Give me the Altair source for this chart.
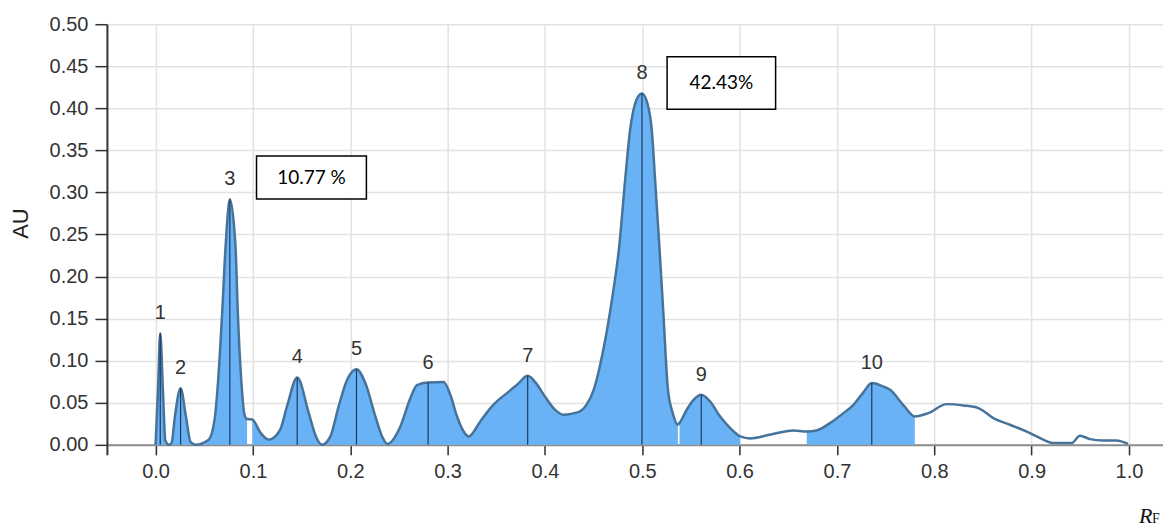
import altair as alt
import pandas as pd

# ---- curve (RF, AU) ----
rf = [0.000, 0.0025, 0.0048, 0.0075, 0.010, 0.0137, 0.0164, 0.020, 0.0257, 0.031, 0.036, 0.041,
      0.0545, 0.0606, 0.0643, 0.0684, 0.0719, 0.0763, 0.0821, 0.0845, 0.088, 0.0914, 0.094,
      0.0993, 0.108, 0.1164, 0.128, 0.135, 0.1455, 0.1574, 0.164, 0.171,
      0.1796, 0.188, 0.1967, 0.2064, 0.2155, 0.2258, 0.2327, 0.238,
      0.2515, 0.2617, 0.2686, 0.280, 0.296, 0.3028, 0.3097, 0.3165, 0.3217,
      0.3336, 0.344, 0.352, 0.361, 0.372, 0.3823, 0.391, 0.400, 0.410, 0.419, 0.428, 0.436,
      0.443, 0.450, 0.460, 0.4688, 0.4763, 0.4824, 0.4875, 0.494, 0.4997, 0.5055, 0.5098, 0.5132,
      0.5176, 0.5217, 0.5262, 0.5313, 0.5366,
      0.5383, 0.5457, 0.5525, 0.5606, 0.5698, 0.580, 0.5904, 0.6006,
      0.611, 0.631, 0.655, 0.669, 0.679, 0.6928, 0.7067, 0.717, 0.727, 0.7358, 0.746, 0.7546,
      0.768, 0.780, 0.794, 0.8128, 0.830, 0.8453, 0.8607, 0.8778, 0.8984, 0.912, 0.922, 0.941,
      0.9497, 0.960, 0.9736, 0.987, 0.999]
au = [0.000, 0.066, 0.1326, 0.066, 0.005, 0.000, 0.002, 0.035, 0.0673, 0.035, 0.003, 0.000,
      0.006, 0.0297, 0.077, 0.1567, 0.2355, 0.2918, 0.2355, 0.1567, 0.077, 0.0356, 0.0305,
      0.030, 0.0139, 0.006, 0.018, 0.0455, 0.080, 0.0376, 0.012, 0.000,
      0.0099, 0.0455, 0.077, 0.0899, 0.0733, 0.0336, 0.0099, 0.001,
      0.0218, 0.0554, 0.071, 0.074, 0.0745, 0.0594, 0.0336, 0.0158, 0.0099,
      0.0277, 0.0436, 0.053, 0.0614, 0.072, 0.082, 0.073, 0.0574, 0.042, 0.0356, 0.037, 0.0396,
      0.048, 0.065, 0.113, 0.172, 0.2355, 0.3147, 0.374, 0.410, 0.4177, 0.405, 0.374, 0.3147,
      0.2355, 0.156, 0.068, 0.0376, 0.0238,
      0.026, 0.0416, 0.053, 0.0594, 0.0514, 0.0336, 0.0198, 0.0099,
      0.0075, 0.0119, 0.017, 0.0158, 0.017, 0.0257, 0.0376, 0.0475, 0.062, 0.0733, 0.070, 0.0653,
      0.0475, 0.0336, 0.0376, 0.0483, 0.0467, 0.0436, 0.0317, 0.0238, 0.0139, 0.006, 0.002, 0.002,
      0.0107, 0.0067, 0.0051, 0.005, 0.001]

# shaded (integrated) ranges
fill_start = [0.000, 0.0993, 0.5383, 0.669]
fill_end = [0.094, 0.5366, 0.6006, 0.780]

# peaks
peak_num = ["1", "2", "3", "4", "5", "6", "7", "8", "9", "10"]
peak_rf = [0.0048, 0.0257, 0.0763, 0.1455, 0.2064, 0.2800, 0.3823, 0.4997, 0.5606, 0.7358]
peak_au = [0.1326, 0.0673, 0.2918, 0.080, 0.0899, 0.074, 0.082, 0.4177, 0.0594, 0.0733]

# annotation boxes
box_text = ["10.77 %", "42.43%"]
box_x1 = [0.1037, 0.5255]
box_x2 = [0.2166, 0.637]
box_y1 = [0.2922, 0.399]
box_y2 = [0.3432, 0.4612]

x_ticks = [0.0, 0.1, 0.2, 0.3, 0.4, 0.5, 0.6, 0.7, 0.8, 0.9, 1.0]
y_ticks = [0.0, 0.05, 0.10, 0.15, 0.20, 0.25, 0.30, 0.35, 0.40, 0.45, 0.50]

# ---- tables ----
segs = []
for v in rf:
    s = ""
    for i, (a, b) in enumerate(zip(fill_start, fill_end)):
        if a <= v <= b:
            s = "s%d" % i
    segs.append(s)
curve = pd.DataFrame({"rf": rf, "au": au, "seg": segs})
curve["base"] = 0.0
peaks = pd.DataFrame({"num": peak_num, "rf": peak_rf, "au": peak_au})
peaks["base"] = 0.0
boxes = pd.DataFrame({"t": box_text, "x1": box_x1, "x2": box_x2, "y1": box_y1, "y2": box_y2})
boxes["xc"] = (boxes["x1"] + boxes["x2"]) / 2
boxes["yc"] = (boxes["y1"] + boxes["y2"]) / 2

FONT = "Liberation Sans"
xscale = alt.Scale(domain=[-0.05, 1.035], nice=False, zero=False)
yscale = alt.Scale(domain=[-0.012, 0.5], nice=False, zero=False)

xaxis = alt.Axis(values=x_ticks, format=".1f", title=None, grid=True, gridColor="#e2e2e2",
                 gridWidth=1.5, offset=-10, domainColor="#8c8c8c", domainWidth=2,
                 tickColor="#333", tickWidth=1.5, tickSize=10, labelFont=FONT,
                 labelFontSize=20, labelColor="#333", labelPadding=7)
yaxis = alt.Axis(values=y_ticks, format=".2f", title="AU", grid=True, gridColor="#e2e2e2",
                 gridWidth=1.5, domainColor="#333", domainWidth=2, tickColor="#333",
                 tickWidth=1.5, tickSize=12, labelFont=FONT, labelFontSize=20,
                 labelColor="#333", labelPadding=7, titleFont=FONT, titleFontSize=22,
                 titleFontWeight="normal", titleColor="#222", titleAngle=270,
                 titleX=-86, titleY=199, titleAlign="center", titleBaseline="middle")

X = alt.X("rf:Q", scale=xscale, axis=xaxis)
Y = alt.Y("au:Q", scale=yscale, axis=yaxis)

area = alt.Chart(curve).transform_filter("datum.seg != ''").mark_area(
    interpolate="monotone", color="#69B2F5", opacity=1
).encode(x=X, y=Y, y2="base:Q", detail="seg:N")

line = alt.Chart(curve).mark_line(
    interpolate="monotone", color="#46739A", strokeWidth=2.5
).encode(x=X, y=Y)

rules = alt.Chart(peaks).mark_rule(color="#1d3a5c", strokeWidth=1.2).encode(
    x=X, y=Y, y2="base:Q")

labels = alt.Chart(peaks).mark_text(
    dy=-20, baseline="middle", font=FONT, fontSize=20, color="#333"
).encode(x=X, y=Y, text="num:N")

rects = alt.Chart(boxes).mark_rect(fill="white", stroke="black", strokeWidth=1.5).encode(
    x=alt.X("x1:Q", scale=xscale, axis=xaxis), x2="x2:Q",
    y=alt.Y("y1:Q", scale=yscale, axis=yaxis), y2="y2:Q")

btext = alt.Chart(boxes).mark_text(font="Lato", fontSize=19, color="black", baseline="middle").encode(
    x=alt.X("xc:Q", scale=xscale, axis=xaxis), y=alt.Y("yc:Q", scale=yscale, axis=yaxis), text="t:N")

subtitle = pd.DataFrame({"t": ["R"], "f": ["F"]})
rlab = alt.Chart(subtitle).mark_text(
    font="Liberation Serif", fontStyle="italic", fontSize=22, align="left",
    baseline="alphabetic", color="#111"
).encode(x=alt.value(1033), y=alt.value(499), text="t:N")
flab = alt.Chart(subtitle).mark_text(
    font="Liberation Serif", fontSize=14, align="left", baseline="alphabetic", color="#111"
).encode(x=alt.value(1046), y=alt.value(499), text="f:N")

chart = alt.layer(area, line, rules, labels, rects, btext, rlab, flab).properties(
    width=1057, height=431,
    autosize=alt.AutoSizeParams(type="none"),
    padding={"left": 99, "top": 16, "right": 0, "bottom": 82},
).configure_view(strokeWidth=0)

chart.save("out.html", embed_options={"renderer": "svg", "actions": False})
